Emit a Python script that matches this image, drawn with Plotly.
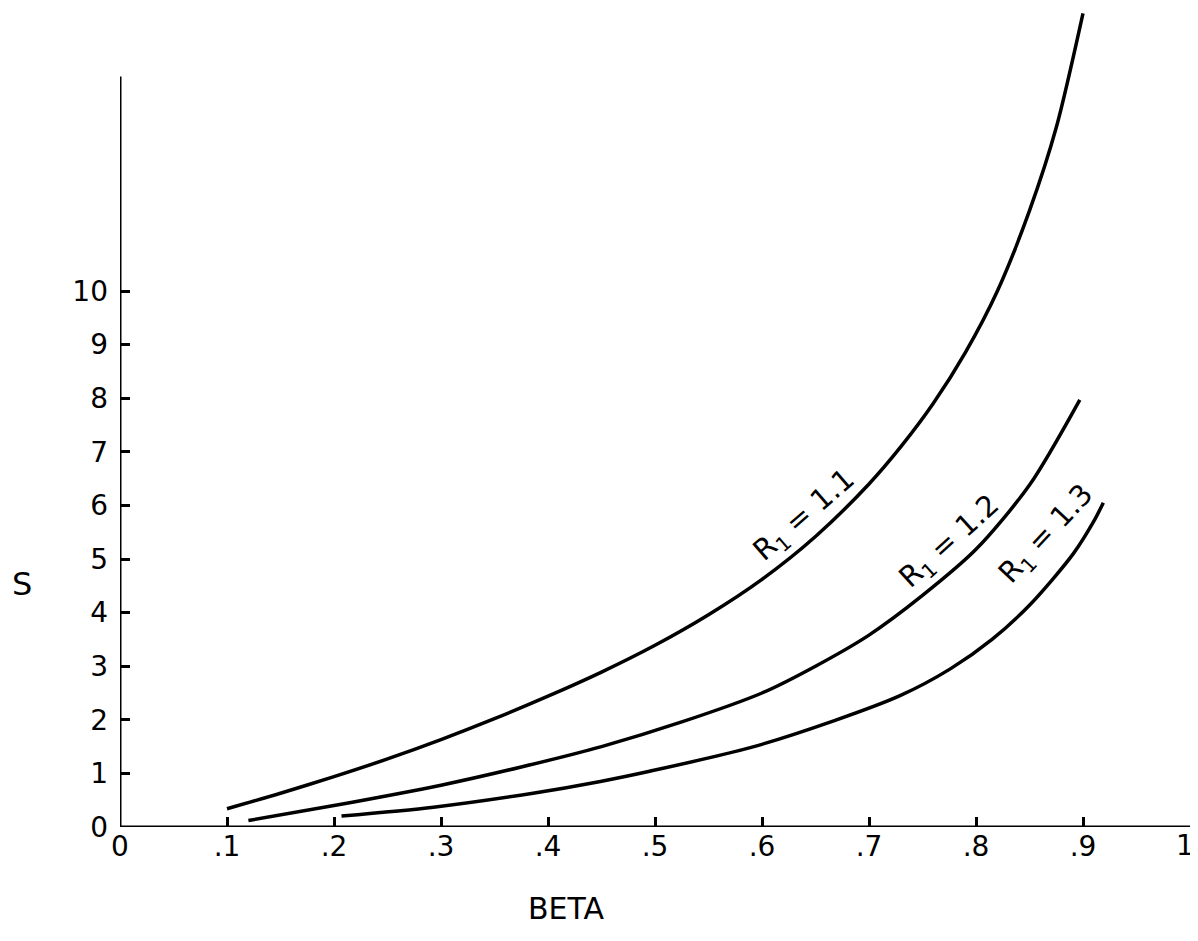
import plotly.graph_objects as go

# ---- data ----
beta_r11 = [0.100, 0.150, 0.200, 0.250, 0.300, 0.350, 0.400, 0.450, 0.500, 0.550,
            0.600, 0.650, 0.700, 0.730, 0.760, 0.790, 0.820, 0.850, 0.875, 0.900]
s_r11 = [0.34, 0.63, 0.94, 1.27, 1.63, 2.02, 2.44, 2.89, 3.39, 3.96,
         4.62, 5.42, 6.40, 7.10, 7.90, 8.85, 10.00, 11.50, 13.05, 15.18]

beta_r12 = [0.120, 0.200, 0.300, 0.375, 0.450, 0.525, 0.600, 0.650, 0.700, 0.750,
            0.800, 0.850, 0.897]
s_r12 = [0.12, 0.40, 0.78, 1.12, 1.50, 1.96, 2.50, 3.00, 3.58, 4.32,
         5.18, 6.38, 7.97]

beta_r13 = [0.207, 0.293, 0.386, 0.449, 0.495, 0.589, 0.667, 0.729, 0.776, 0.815,
            0.852, 0.891, 0.910, 0.919]
s_r13 = [0.205, 0.37, 0.63, 0.85, 1.04, 1.48, 1.98, 2.45, 2.95, 3.50,
         4.18, 5.10, 5.70, 6.05]

series_names = ["R<sub>1</sub> = 1.1", "R<sub>1</sub> = 1.2", "R<sub>1</sub> = 1.3"]

x_tick_vals = [0, 0.1, 0.2, 0.3, 0.4, 0.5, 0.6, 0.7, 0.8, 0.9, 1.0]
x_tick_text = ["0", ".1", ".2", ".3", ".4", ".5", ".6", ".7", ".8", ".9", "1"]
y_tick_vals = [0, 1, 2, 3, 4, 5, 6, 7, 8, 9, 10]
y_tick_text = [str(v) for v in y_tick_vals]

FONT = "DejaVu Sans"
INK = "black"

# figure geometry (page has an 8px body margin)
W, H = 1190, 933
ML, MR, MT, MB = 112, 8, 0, 114
PW, PH = W - ML - MR, H - MT - MB

fig = go.Figure()
for xs, ys, name in [(beta_r11, s_r11, series_names[0]),
                     (beta_r12, s_r12, series_names[1]),
                     (beta_r13, s_r13, series_names[2])]:
    fig.add_trace(go.Scatter(
        x=xs, y=ys, mode="lines", name=name,
        line=dict(color=INK, width=3.5, shape="spline", smoothing=0.8),
        showlegend=False, hoverinfo="skip"))

# axis lines (y axis stops at 14 like the original drawing)
fig.add_shape(type="line", xref="x", yref="y", x0=0, x1=1, y0=0, y1=0,
              line=dict(color=INK, width=3))
fig.add_shape(type="line", xref="x", yref="y", x0=0, x1=0, y0=0, y1=14,
              line=dict(color=INK, width=3))

# curve labels
label_pos = [(0.640, 5.80, -41), (0.776, 5.32, -42), (0.866, 5.45, -47)]
for (lx, ly, ang), txt in zip(label_pos, series_names):
    fig.add_annotation(x=lx, y=ly, xref="x", yref="y", text=txt,
                       textangle=ang, showarrow=False,
                       font=dict(family=FONT, size=29, color=INK))

# last tick label is drawn separately so that it stays inside the page
axis_tick_text = x_tick_text[:-1] + [""]

fig.update_layout(
    width=W, height=H,
    margin=dict(l=ML, r=MR, t=MT, b=MB, autoexpand=False),
    paper_bgcolor="white", plot_bgcolor="white",
    font=dict(family=FONT, color=INK),
    xaxis=dict(
        range=[0, 1.0], tickvals=x_tick_vals, ticktext=axis_tick_text,
        ticks="inside", ticklen=10, tickwidth=2.5, tickcolor=INK,
        showgrid=False, zeroline=False, showline=False, automargin=False,
        tickfont=dict(family=FONT, size=28, color=INK),
    ),
    yaxis=dict(
        range=[0, 15.28], tickvals=y_tick_vals, ticktext=y_tick_text,
        ticks="inside", ticklen=10, tickwidth=2.5, tickcolor=INK,
        showgrid=False, zeroline=False, showline=False, automargin=False,
        tickfont=dict(family=FONT, size=28, color=INK),
        ticklabelstandoff=11,
    ),
)

def to_paper(px, py):
    fx, fy = px - 8, py - 8
    return (fx - ML) / PW, (MT + PH - fy) / PH

_, ly1 = to_paper(0, 846)
fig.add_annotation(x=x_tick_vals[-1], xref="x", y=ly1, yref="paper",
                   text=x_tick_text[-1], xanchor="right", yanchor="middle",
                   xshift=6, showarrow=False,
                   font=dict(family=FONT, size=28, color=INK))

bx, by = to_paper(566, 908)
fig.add_annotation(x=bx, y=by, xref="paper", yref="paper", text="BETA",
                   xanchor="center", yanchor="middle",
                   showarrow=False, font=dict(family=FONT, size=30, color=INK))
sx, sy = to_paper(22, 584)
fig.add_annotation(x=sx, y=sy, xref="paper", yref="paper", text="S",
                   xanchor="center", yanchor="middle",
                   showarrow=False, font=dict(family=FONT, size=32, color=INK))

fig.write_html("out.html")
